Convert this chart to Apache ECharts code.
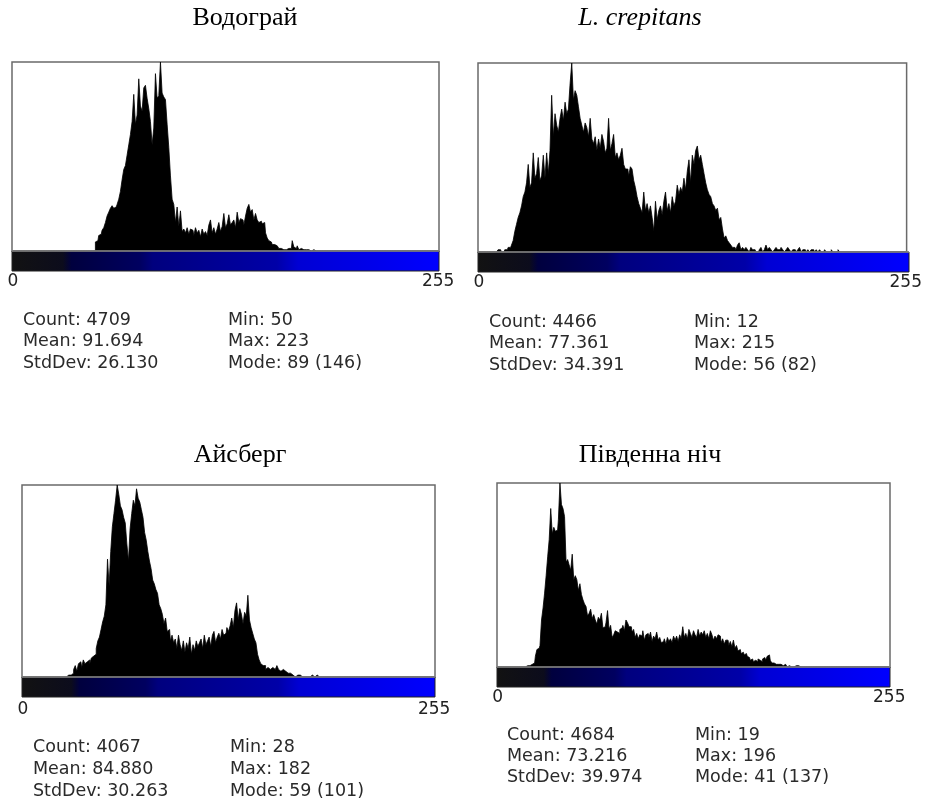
<!DOCTYPE html>
<html>
<head>
<meta charset="utf-8">
<script src="https://cdn.jsdelivr.net/npm/echarts@6/dist/echarts.min.js"></script>
<style>
  html, body { margin: 0; padding: 0; background: #fff; }
  #chart { width: 925px; height: 801px; }
</style>
</head>
<body>
<div id="chart"></div>
<script>
// panel titles and the LUT bar tick labels
const titles = ['Водограй', 'L. crepitans', 'Айсберг', 'Південна ніч'];
const lutTicks = ['0', '255'];

// first non-empty bin of each histogram and the mode count (top of the box)
const minBins = [50, 12, 28, 19];
const modeCounts = [146, 82, 101, 137];

// Водограй, counts from bin 50
const hist1 = [
  7, 8, 12, 13, 16, 18, 22, 27, 30, 33,
  35, 33, 34, 36, 40, 46, 55, 63, 66, 74,
  82, 90, 100, 121, 98, 105, 133, 112, 108, 126,
  128, 118, 110, 100, 82, 95, 137, 118, 120, 146,
  122, 119, 117, 98, 80, 58, 40, 36, 22, 34,
  19, 31, 15, 17, 14, 18, 13, 17, 16, 12,
  18, 14, 16, 11, 17, 13, 15, 12, 20, 24,
  14, 18, 13, 17, 22, 15, 19, 29, 18, 21,
  28, 20, 22, 24, 18, 30, 22, 25, 24, 20,
  27, 33, 36, 30, 32, 24, 29, 24, 22, 23,
  21, 22, 14, 10, 8, 7, 5, 5, 4, 3,
  2, 2, 1, 2, 1, 2, 3, 2, 8, 3,
  2, 4, 1, 2, 1, 0, 1, 1, 0, 0,
  1, 0, 0, 0, 0, 0, 0, 0, 0, 0,
  0, 0, 0, 0, 0, 0, 0, 0, 0, 0,
  0, 0, 0, 0, 0, 0, 0, 0, 0, 0,
  0, 0, 0, 0, 0, 0, 0, 0, 0, 0,
  0, 0, 0, 1
];

// L. crepitans, counts from bin 12
const hist2 = [
  1, 1, 0, 0, 1, 1, 2, 2,
  3, 5, 9, 12, 15, 17, 20, 24, 26, 30,
  38, 28, 30, 43, 32, 34, 41, 31, 33, 42,
  32, 43, 34, 44, 68, 50, 60, 55, 52, 58,
  62, 57, 65, 60, 62, 73, 82, 66, 70, 68,
  63, 58, 55, 52, 56, 54, 50, 58, 49, 47,
  50, 44, 49, 45, 51, 48, 43, 45, 58, 44,
  47, 51, 41, 43, 40, 42, 45, 38, 36, 36,
  33, 37, 36, 31, 28, 24, 21, 19, 17, 26,
  18, 21, 17, 20, 15, 9, 22, 14, 18, 20,
  16, 22, 26, 18, 21, 17, 24, 20, 22, 29,
  25, 28, 26, 32, 27, 35, 40, 30, 42, 38,
  44, 46, 40, 42, 38, 34, 30, 27, 25, 24,
  21, 20, 18, 19, 14, 15, 10, 6, 7, 5,
  4, 3, 2, 2, 1, 3, 4, 1, 2, 1,
  2, 1, 0, 2, 1, 1, 0, 0, 1, 2,
  0, 1, 3, 1, 2, 1, 0, 1, 2, 1,
  1, 2, 1, 0, 1, 2, 1, 0, 1, 1,
  0, 1, 2, 0, 1, 1, 0, 1, 0, 1,
  1, 0, 1, 0, 1, 0, 0, 1, 0, 0,
  0, 1, 0, 0, 0, 1
];

// Айсберг, counts from bin 28
const hist3 = [
  1, 0,
  1, 2, 4, 6, 3, 7, 8, 5, 9, 7,
  8, 9, 7, 10, 11, 12, 15, 19, 21, 25,
  29, 32, 38, 62, 48, 66, 79, 86, 93, 101,
  96, 90, 88, 84, 81, 70, 61, 78, 86, 93,
  90, 99, 94, 92, 88, 84, 76, 72, 66, 61,
  57, 51, 49, 46, 44, 38, 36, 33, 28, 31,
  24, 25, 19, 22, 18, 20, 15, 22, 17, 14,
  19, 13, 18, 15, 21, 12, 17, 14, 19, 16,
  18, 20, 15, 22, 17, 19, 21, 16, 22, 24,
  18, 21, 23, 20, 25, 22, 23, 26, 24, 27,
  31, 26, 35, 39, 30, 36, 33, 28, 34, 32,
  43, 30, 26, 23, 20, 18, 12, 9, 7, 6,
  6, 4, 5, 4, 3, 5, 4, 5, 6, 4,
  3, 4, 4, 3, 2, 2, 2, 1, 1, 0,
  1, 0, 1, 0, 1, 0, 0, 1, 0, 1,
  0, 0, 1
];

// Південна ніч, counts from bin 19
const hist4 = [
  1,
  0, 1, 2, 3, 3, 8, 13, 14, 16, 35,
  44, 55, 68, 82, 95, 118, 99, 104, 101, 102,
  110, 137, 121, 118, 112, 78, 80, 76, 72, 84,
  65, 68, 65, 57, 62, 54, 50, 47, 45, 38,
  40, 43, 36, 39, 35, 32, 37, 35, 40, 29,
  30, 33, 42, 28, 31, 22, 24, 27, 26, 25,
  28, 29, 31, 27, 35, 33, 30, 30, 26, 28,
  22, 25, 21, 24, 23, 27, 20, 24, 25, 22,
  26, 19, 23, 21, 26, 20, 22, 18, 19, 21,
  17, 22, 19, 21, 18, 23, 20, 23, 19, 24,
  21, 30, 22, 25, 21, 28, 25, 22, 27, 24,
  22, 28, 23, 26, 24, 27, 22, 25, 21, 27,
  24, 20, 23, 21, 24, 23, 18, 21, 17, 20,
  20, 16, 19, 15, 20, 14, 16, 12, 13, 10,
  11, 9, 10, 8, 7, 5, 6, 4, 5, 4,
  6, 5, 4, 6, 7, 5, 8, 9, 5, 3,
  3, 2, 3, 2, 2, 1, 1, 2, 1, 0,
  1, 0, 1, 0, 1, 0, 1
];

const statsLeft = [
  ['Count: 4709', 'Mean: 91.694', 'StdDev: 26.130'],
  ['Count: 4466', 'Mean: 77.361', 'StdDev: 34.391'],
  ['Count: 4067', 'Mean: 84.880', 'StdDev: 30.263'],
  ['Count: 4684', 'Mean: 73.216', 'StdDev: 39.974']
];
const statsRight = [
  ['Min: 50', 'Max: 223', 'Mode: 89 (146)'],
  ['Min: 12', 'Max: 215', 'Mode: 56 (82)'],
  ['Min: 28', 'Max: 182', 'Mode: 59 (101)'],
  ['Min: 19', 'Max: 196', 'Mode: 41 (137)']
];

const hists = [hist1, hist2, hist3, hist4];

// layout of each panel (pixels)
const boxes = [
  { left: 12, top: 62, width: 427, height: 189, lutH: 19, tickMargin: 22, titleX: 245, titleY: 18, sx: [23, 228], sy: 320, sdy: 21.5 },
  { left: 478, top: 63, width: 431, height: 189, lutH: 19, tickMargin: 22, titleX: 640, titleY: 18, sx: [489, 694], sy: 322, sdy: 21.5 },
  { left: 22, top: 485, width: 413, height: 192, lutH: 19, tickMargin: 24, titleX: 240, titleY: 455, sx: [33, 230], sy: 747, sdy: 22 },
  { left: 497, top: 483, width: 393, height: 184, lutH: 19, tickMargin: 22, titleX: 650, titleY: 455, sx: [507, 695], sy: 735, sdy: 21 }
];

const bins = [];
for (let i = 0; i < 256; i++) bins.push(i);

const chart = echarts.init(document.getElementById('chart'), null, { renderer: 'canvas' });

const lutGradient = () => new echarts.graphic.LinearGradient(0, 0, 1, 0, [
  { offset: 0, color: '#121212' },
  { offset: 0.12, color: '#0c0c1c' },
  { offset: 0.14, color: '#00003e' },
  { offset: 0.3, color: '#000060' },
  { offset: 0.33, color: '#00007e' },
  { offset: 0.62, color: '#0000a8' },
  { offset: 0.67, color: '#0000d4' },
  { offset: 1, color: '#0000ff' }
]);

const grid = [], xAxis = [], yAxis = [], series = [], graphic = [];

boxes.forEach((b, i) => {
  grid.push({
    left: b.left, top: b.top, width: b.width, height: b.height,
    show: true, borderColor: '#6a6a6a', borderWidth: 1.5, backgroundColor: '#fff'
  });
  xAxis.push({
    type: 'category', gridIndex: i, data: bins, boundaryGap: true,
    axisLine: { show: false }, axisTick: { show: false },
    axisLabel: {
      interval: (idx) => idx === 0 || idx === 255,
      formatter: (v) => (v === '0' || v === 0) ? lutTicks[0] : lutTicks[1],
      margin: b.tickMargin, color: '#222', fontSize: 17,
      fontFamily: '"DejaVu Sans", Arial, sans-serif'
    }
  });
  yAxis.push({
    type: 'value', gridIndex: i, min: 0, max: modeCounts[i],
    show: false, splitLine: { show: false }
  });
  const data = bins.map(() => 0);
  hists[i].forEach((v, k) => { data[minBins[i] + k] = v; });
  // histogram drawn as a stepped, filled area so the bins join without seams
  series.push({
    type: 'line', xAxisIndex: i, yAxisIndex: i, data: data,
    step: 'middle', symbol: 'none', silent: true, z: 1,
    lineStyle: { color: '#000', width: 0.8 },
    areaStyle: { color: '#000', opacity: 1 }
  });

  // LUT bar under the histogram
  graphic.push({
    type: 'rect', silent: true, z: 10,
    shape: { x: b.left, y: b.top + b.height, width: b.width, height: b.lutH + 1 },
    style: { fill: lutGradient(), stroke: '#222', lineWidth: 1 }
  });
  // gray baseline between histogram and LUT bar
  graphic.push({
    type: 'line', silent: true, z: 11,
    shape: { x1: b.left, y1: b.top + b.height, x2: b.left + b.width, y2: b.top + b.height },
    style: { stroke: '#8a8a8a', lineWidth: 1.5 }
  });
  // panel title
  graphic.push({
    type: 'text', silent: true,
    style: {
      text: titles[i], x: b.titleX, y: b.titleY, align: 'center', verticalAlign: 'middle',
      fontSize: 26, fontStyle: i === 1 ? 'italic' : 'normal',
      fontFamily: 'Liberation Serif, "Times New Roman", serif', fill: '#000'
    }
  });
  // statistics
  [statsLeft[i], statsRight[i]].forEach((lines, c) => {
    lines.forEach((t, r) => {
      graphic.push({
        type: 'text', silent: true,
        style: {
          text: t, x: b.sx[c], y: b.sy + r * b.sdy, align: 'left', verticalAlign: 'middle',
          fontSize: 17.5, fontFamily: '"DejaVu Sans", Arial, sans-serif', fill: '#2a2a2a'
        }
      });
    });
  });
});

const option = {
  animation: false,
  backgroundColor: '#fff',
  grid: grid,
  xAxis: xAxis,
  yAxis: yAxis,
  series: series,
  graphic: graphic
};
option && chart.setOption(option);
</script>
</body>
</html>
